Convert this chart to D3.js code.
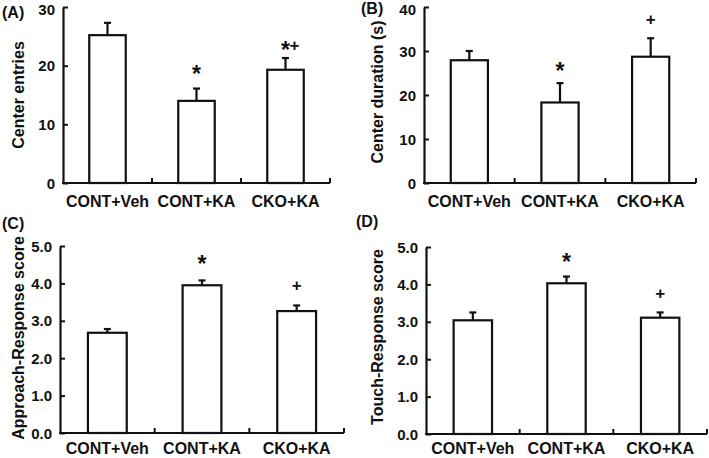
<!DOCTYPE html>
<html><head><meta charset="utf-8">
<script src="https://cdn.jsdelivr.net/npm/d3@7/dist/d3.min.js"></script>
<style>
body{margin:0;background:#fff;}
svg text{font-family:"Liberation Sans",Arial,sans-serif;font-weight:bold;fill:#111;}
</style></head>
<body><svg id="chart" width="709" height="458"></svg>
<script>
const categories = ["CONT+Veh", "CONT+KA", "CKO+KA"];

const centerEntries = [25.2, 14.0, 19.3];
const centerEntriesErr = [2.1, 2.1, 2.0];
const centerEntriesMarks = ["", "*", "*+"];
const centerEntriesTicks = [0, 10, 20, 30];

const centerDuration = [27.9, 18.3, 28.7];
const centerDurationErr = [2.1, 4.4, 4.2];
const centerDurationMarks = ["", "*", "+"];
const centerDurationTicks = [0, 10, 20, 30, 40];

const approachScore = [2.68, 3.95, 3.26];
const approachScoreErr = [0.10, 0.13, 0.15];
const approachScoreMarks = ["", "*", "+"];
const approachScoreTicks = [0, 1, 2, 3, 4, 5];

const touchScore = [3.04, 4.03, 3.11];
const touchScoreErr = [0.21, 0.18, 0.14];
const touchScoreMarks = ["", "*", "+"];
const touchScoreTicks = [0, 1, 2, 3, 4, 5];

const svg = d3.select("#chart");

function panel(o) {
  const g = svg.append("g");
  const x = d3.scaleBand().domain(categories).range([o.x0, o.x1]).paddingInner(0.59).paddingOuter(0.295);
  const y = d3.scaleLinear().domain([0, o.max]).range([o.y0, o.yTop]);
  const bw = x.bandwidth();

  g.selectAll("rect.bar").data(categories).join("rect")
    .attr("x", d => x(d)).attr("width", bw)
    .attr("y", (d, i) => y(o.values[i]))
    .attr("height", (d, i) => o.y0 - y(o.values[i]))
    .attr("fill", "#fff").attr("stroke", "#111").attr("stroke-width", 2.2);

  categories.forEach((c, i) => {
    const cx = x(c) + bw / 2;
    const top = y(o.values[i] + o.err[i]);
    g.append("line").attr("x1", cx).attr("x2", cx)
      .attr("y1", y(o.values[i])).attr("y2", top)
      .attr("stroke", "#111").attr("stroke-width", 2.2);
    g.append("line").attr("x1", cx - 3.5).attr("x2", cx + 3.5)
      .attr("y1", top).attr("y2", top)
      .attr("stroke", "#111").attr("stroke-width", 2.2);
    const m = o.marks[i];
    if (m) {
      const center = top - o.markGap[i];
      const t = g.append("text").attr("x", cx).attr("text-anchor", "middle");
      m.split("").forEach(ch => {
        const star = ch === "*";
        t.append("tspan").attr("font-size", star ? 23 : 17)
          .attr("y", center + (star ? 13 : 6)).text(ch);
      });
    }
  });

  const ya = d3.axisRight(y).tickValues(o.ticks).tickSize(5).tickSizeOuter(0)
    .tickFormat(o.fmt);
  const yg = g.append("g").attr("transform", `translate(${o.x0},0)`).call(ya);
  yg.select(".domain").attr("stroke", "#111").attr("stroke-width", 2.2);
  yg.selectAll(".tick line").attr("stroke", "#111").attr("stroke-width", 2);
  yg.selectAll(".tick text").attr("x", -8).attr("text-anchor", "end")
    .attr("font-size", 15).attr("fill", "#111")
    .attr("dy", d => (y(d) < 15 ? "0.5em" : "0.34em"))
    .style("font-family", "'Liberation Sans',Arial,sans-serif").style("font-weight", "bold");

  g.append("line").attr("x1", o.x0 - 1).attr("x2", o.x1).attr("y1", o.y0).attr("y2", o.y0)
    .attr("stroke", "#111").attr("stroke-width", 2.2);
  [1, 2, 3].forEach(k => {
    const tx = o.x0 + k * (o.x1 - o.x0) / 3;
    g.append("line").attr("x1", tx).attr("x2", tx).attr("y1", o.y0).attr("y2", o.y0 - 5)
      .attr("stroke", "#111").attr("stroke-width", 2);
  });
  categories.forEach(c => {
    g.append("text").attr("x", x(c) + bw / 2).attr("y", o.y0 + o.labGap)
      .attr("text-anchor", "middle").attr("font-size", 16).text(c);
  });

  g.append("text").attr("transform", `translate(${o.titleX},${o.titleY}) rotate(-90)`)
    .attr("text-anchor", "middle").attr("font-size", 16).text(o.title);

  g.append("text").attr("x", o.labX).attr("y", o.labY).attr("font-size", 16).text(o.label);
}

panel({x0: 63, x1: 330, y0: 183, yTop: 7, max: 30, values: centerEntries, err: centerEntriesErr,
  marks: centerEntriesMarks, markGap: [0, 20, 13], ticks: centerEntriesTicks, fmt: d3.format("d"),
  labGap: 24, title: "Center entries", titleX: 24, titleY: 95, label: "(A)", labX: 2, labY: 18});
panel({x0: 424, x1: 696, y0: 183, yTop: 7, max: 40, values: centerDuration, err: centerDurationErr,
  marks: centerDurationMarks, markGap: [0, 17, 19], ticks: centerDurationTicks, fmt: d3.format("d"),
  labGap: 24, title: "Center duration (s)", titleX: 383, titleY: 92, label: "(B)", labX: 361, labY: 14});
panel({x0: 60, x1: 344, y0: 433, yTop: 246, max: 5, values: approachScore, err: approachScoreErr,
  marks: approachScoreMarks, markGap: [0, 21, 20], ticks: approachScoreTicks, fmt: d3.format(".1f"),
  labGap: 21, title: "Approach-Response score", titleX: 24, titleY: 338, label: "(C)", labX: 2, labY: 229});
panel({x0: 426, x1: 707, y0: 434, yTop: 247, max: 5, values: touchScore, err: touchScoreErr,
  marks: touchScoreMarks, markGap: [0, 20, 19], ticks: touchScoreTicks, fmt: d3.format(".1f"),
  labGap: 20, title: "Touch-Response score", titleX: 383, titleY: 337, label: "(D)", labX: 356, labY: 227});
</script></body></html>
